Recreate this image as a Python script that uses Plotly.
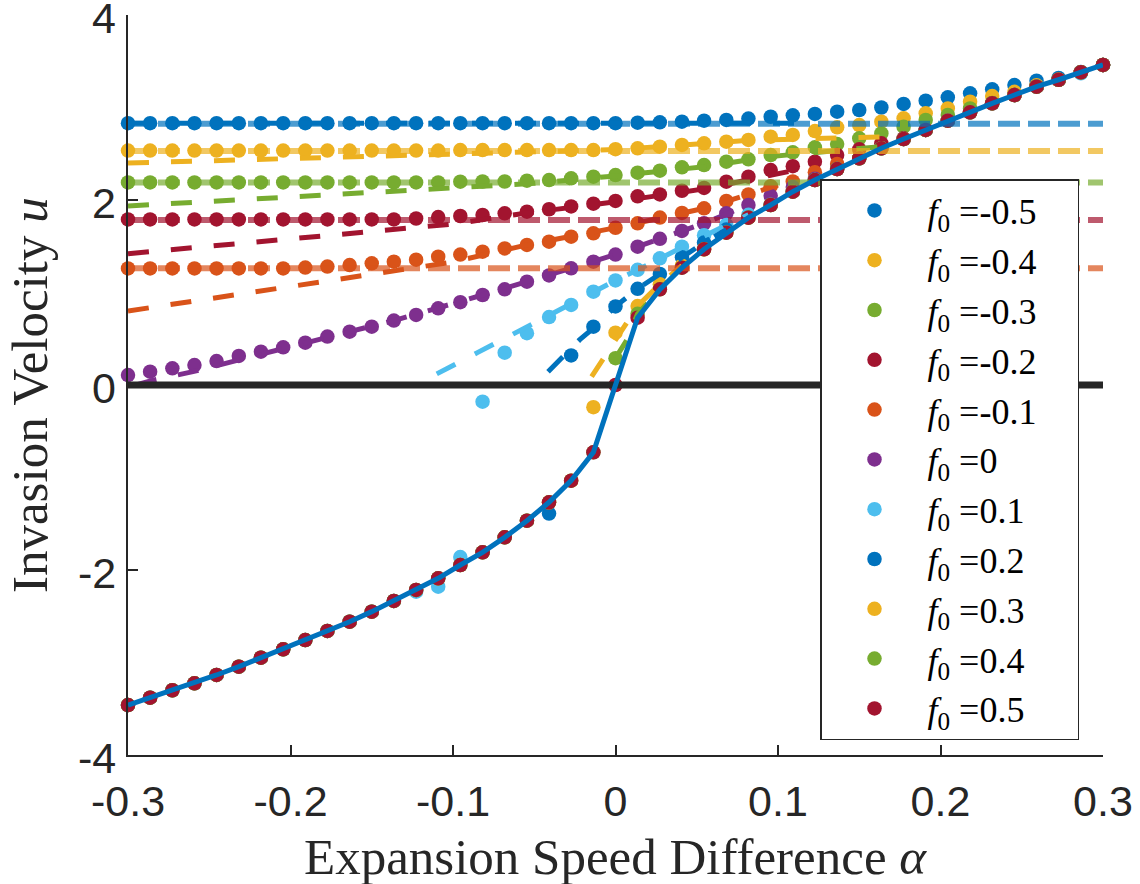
import plotly.graph_objects as go

# ---------------- data ----------------
ALPHA = [-0.3, -0.2864, -0.2727, -0.2591, -0.2455, -0.2318, -0.2182, -0.2045, -0.1909, -0.1773,
         -0.1636, -0.15, -0.1364, -0.1227, -0.1091, -0.0955, -0.0818, -0.0682, -0.0545, -0.0409,
         -0.0273, -0.0136, 0.0, 0.0136, 0.0273, 0.0409, 0.0545, 0.0682, 0.0818, 0.0955,
         0.1091, 0.1227, 0.1364, 0.15, 0.1636, 0.1773, 0.1909, 0.2045, 0.2182, 0.2318,
         0.2455, 0.2591, 0.2727, 0.2864, 0.3]

MAIN_U = [-3.46, -3.38, -3.30, -3.225, -3.135, -3.045, -2.948, -2.857, -2.757, -2.659,
          -2.559, -2.45, -2.335, -2.216, -2.09, -1.946, -1.809, -1.647, -1.467, -1.268,
          -1.034, -0.728, 0.0, 0.728, 1.034, 1.268, 1.467, 1.647, 1.809, 1.946,
          2.09, 2.216, 2.335, 2.45, 2.559, 2.659, 2.757, 2.857, 2.948, 3.045,
          3.135, 3.225, 3.30, 3.38, 3.46]

U_M05 = [2.83, 2.83, 2.83, 2.83, 2.83, 2.83, 2.83, 2.83, 2.83, 2.83,
         2.83, 2.83, 2.83, 2.83, 2.83, 2.83, 2.83, 2.83, 2.83, 2.83,
         2.83, 2.83, 2.83, 2.836, 2.84, 2.847, 2.858, 2.865, 2.88, 2.90,
         2.915, 2.93, 2.955, 2.973, 3.0, 3.038, 3.074, 3.11, 3.153, 3.196,
         3.243, 3.29, 3.32, 3.385, 3.46]
U_M04 = [2.535, 2.535, 2.535, 2.535, 2.535, 2.535, 2.535, 2.535, 2.535, 2.535,
         2.535, 2.535, 2.535, 2.535, 2.535, 2.54, 2.54, 2.54, 2.54, 2.54,
         2.54, 2.54, 2.55, 2.559, 2.577, 2.595, 2.613, 2.631, 2.649, 2.685,
         2.703, 2.745, 2.786, 2.81, 2.847, 2.883, 2.937, 2.99, 3.063, 3.124,
         3.17, 3.24, 3.30, 3.38, 3.46]
U_M03 = [2.19, 2.19, 2.19, 2.19, 2.19, 2.19, 2.19, 2.19, 2.19, 2.19,
         2.19, 2.19, 2.19, 2.19, 2.19, 2.198, 2.2, 2.2, 2.209, 2.216,
         2.234, 2.252, 2.27, 2.295, 2.317, 2.353, 2.378, 2.414, 2.44, 2.486,
         2.515, 2.57, 2.605, 2.667, 2.72, 2.793, 2.865, 2.919, 2.99, 3.05,
         3.135, 3.225, 3.30, 3.38, 3.46]
U_M02 = [1.79, 1.79, 1.79, 1.79, 1.79, 1.79, 1.79, 1.79, 1.79, 1.79,
         1.79, 1.79, 1.79, 1.80, 1.815, 1.827, 1.838, 1.856, 1.874, 1.90,
         1.93, 1.96, 1.99, 2.04, 2.06, 2.10, 2.13, 2.198, 2.252, 2.324,
         2.365, 2.414, 2.486, 2.548, 2.613, 2.667, 2.757, 2.857, 2.948, 3.045,
         3.135, 3.225, 3.30, 3.38, 3.46]
U_M01 = [1.26, 1.26, 1.26, 1.26, 1.26, 1.26, 1.26, 1.26, 1.27, 1.28,
         1.297, 1.315, 1.333, 1.355, 1.387, 1.41, 1.441, 1.477, 1.514, 1.55,
         1.604, 1.64, 1.70, 1.748, 1.81, 1.86, 1.91, 1.99, 2.06, 2.15,
         2.2, 2.3, 2.39, 2.45, 2.559, 2.659, 2.757, 2.857, 2.948, 3.045,
         3.135, 3.225, 3.30, 3.38, 3.46]
U_000 = [0.108, 0.144, 0.18, 0.216, 0.259, 0.314, 0.36, 0.407, 0.458, 0.523,
         0.577, 0.631, 0.696, 0.757, 0.829, 0.895, 0.973, 1.034, 1.117, 1.185,
         1.261, 1.333, 1.41, 1.495, 1.58, 1.665, 1.748, 1.856, 1.946, 2.045,
         2.14, 2.23, 2.335, 2.45, 2.559, 2.659, 2.757, 2.857, 2.948, 3.045,
         3.135, 3.225, 3.30, 3.38, 3.46]
U_P01 = [-3.46, -3.38, -3.30, -3.225, -3.135, -3.045, -2.948, -2.857, -2.757, -2.659,
         -2.559, -2.45, -2.335, -2.235, -2.18, -1.86, -0.18, 0.35, 0.56, 0.735,
         0.865, 1.009, 1.13, 1.245, 1.37, 1.495, 1.62, 1.73, 1.84, 1.95,
         2.09, 2.216, 2.335, 2.45, 2.559, 2.659, 2.757, 2.857, 2.948, 3.045,
         3.135, 3.225, 3.30, 3.37, 3.46]
U_P02 = [-3.46, -3.38, -3.30, -3.225, -3.135, -3.045, -2.948, -2.857, -2.757, -2.659,
         -2.559, -2.45, -2.335, -2.216, -2.09, -1.946, -1.809, -1.647, -1.467, -1.39,
         0.32, 0.63, 0.85, 1.04, 1.2, 1.38, 1.54, 1.68, 1.81, 1.946,
         2.09, 2.216, 2.335, 2.45, 2.559, 2.659, 2.757, 2.857, 2.948, 3.045,
         3.135, 3.225, 3.30, 3.38, 3.46]
U_P03 = [-3.46, -3.38, -3.30, -3.225, -3.135, -3.045, -2.948, -2.857, -2.757, -2.659,
         -2.559, -2.45, -2.335, -2.216, -2.09, -1.946, -1.809, -1.647, -1.467, -1.268,
         -1.034, -0.24, 0.565, 0.854, 1.09, 1.29, 1.467, 1.647, 1.809, 1.946,
         2.09, 2.216, 2.335, 2.45, 2.559, 2.659, 2.757, 2.857, 2.948, 3.045,
         3.135, 3.225, 3.30, 3.38, 3.46]
U_P04 = [-3.46, -3.38, -3.30, -3.225, -3.135, -3.045, -2.948, -2.857, -2.757, -2.659,
         -2.559, -2.45, -2.335, -2.216, -2.09, -1.946, -1.809, -1.647, -1.467, -1.268,
         -1.034, -0.728, 0.29, 0.77, 1.034, 1.268, 1.467, 1.647, 1.809, 1.946,
         2.09, 2.216, 2.335, 2.45, 2.559, 2.659, 2.757, 2.857, 2.948, 3.045,
         3.135, 3.225, 3.30, 3.38, 3.46]
U_P05 = [-3.46, -3.38, -3.30, -3.225, -3.135, -3.045, -2.948, -2.857, -2.757, -2.659,
         -2.559, -2.45, -2.335, -2.216, -2.09, -1.946, -1.809, -1.647, -1.467, -1.268,
         -1.034, -0.728, 0.0, 0.728, 1.034, 1.268, 1.467, 1.647, 1.809, 1.946,
         2.09, 2.216, 2.335, 2.45, 2.559, 2.659, 2.757, 2.857, 2.948, 3.045,
         3.135, 3.225, 3.30, 3.38, 3.46]

F0_LABELS = ["-0.5", "-0.4", "-0.3", "-0.2", "-0.1", "0", "0.1", "0.2", "0.3", "0.4", "0.5"]
F0_COLORS = ["#0072BD", "#EDB120", "#77AC30", "#A2142F", "#D95319", "#7E2F8E",
             "#4DBEEE", "#0072BD", "#EDB120", "#77AC30", "#A2142F"]
SIM_SERIES = [U_M05, U_M04, U_M03, U_M02, U_M01, U_000, U_P01, U_P02, U_P03, U_P04, U_P05]

# theory (dashed) curves: alpha / u pairs
TH_M05_A = [-0.3, 0.114]
TH_M05_U = [2.83, 2.83]
TH_M04_A = [-0.3, -0.1, 0.0, 0.0409, 0.0818, 0.17]
TH_M04_U = [2.40, 2.495, 2.545, 2.595, 2.645, 2.685]
TH_M03_A = [-0.3, -0.1, -0.05, 0.0, 0.0545, 0.0955, 0.165]
TH_M03_U = [1.935, 2.126, 2.18, 2.26, 2.36, 2.47, 2.58]
TH_M02_A = [-0.3, -0.1, -0.0545, 0.0, 0.0545, 0.11]
TH_M02_U = [1.42, 1.74, 1.86, 1.98, 2.12, 2.32]
TH_M01_A = [-0.3, -0.2, -0.1, -0.0545, 0.0, 0.0545, 0.0818, 0.10]
TH_M01_U = [0.80, 1.07, 1.33, 1.515, 1.70, 1.91, 2.06, 2.16]
TH_000_A = [-0.295, -0.285, -0.26, -0.237, -0.21, -0.1909, -0.1636, -0.1364, -0.1091, -0.0818,
            -0.0545, -0.0273, 0.0, 0.0273, 0.0545, 0.0818]
TH_000_U = [0.0, 0.05, 0.144, 0.25, 0.37, 0.458, 0.577, 0.696, 0.829, 0.973,
            1.117, 1.261, 1.41, 1.58, 1.748, 1.946]
TH_P01_A = [-0.11, -0.0975, -0.085, -0.074, -0.062, -0.051, -0.0409, -0.0273, -0.0136, 0.0,
            0.0136, 0.0273, 0.0409, 0.0545, 0.0682, 0.0818]
TH_P01_U = [0.12, 0.24, 0.35, 0.45, 0.56, 0.67, 0.76, 0.88, 1.01, 1.13,
            1.245, 1.37, 1.495, 1.62, 1.73, 1.84]
TH_P02_A = [-0.0415, -0.032, -0.022, -0.0145, 0.0, 0.0136, 0.0273, 0.0409, 0.0545, 0.0682]
TH_P02_U = [0.144, 0.32, 0.49, 0.60, 0.85, 1.04, 1.2, 1.38, 1.54, 1.68]
TH_P03_A = [-0.0147, -0.0075, 0.0, 0.005, 0.0136, 0.0273, 0.0409]
TH_P03_U = [0.09, 0.29, 0.50, 0.63, 0.854, 1.09, 1.29]
TH_P04_A = [0.0, 0.0071, 0.0136, 0.0273]
TH_P04_U = [0.29, 0.49, 0.77, 1.03]
THEORY = [(TH_M05_A, TH_M05_U, "#0072BD"), (TH_M04_A, TH_M04_U, "#EDB120"),
          (TH_M03_A, TH_M03_U, "#77AC30"), (TH_M02_A, TH_M02_U, "#A2142F"),
          (TH_M01_A, TH_M01_U, "#D95319"), (TH_000_A, TH_000_U, "#7E2F8E"),
          (TH_P01_A, TH_P01_U, "#4DBEEE"), (TH_P02_A, TH_P02_U, "#0072BD"),
          (TH_P03_A, TH_P03_U, "#EDB120"), (TH_P04_A, TH_P04_U, "#77AC30")]

# plateau levels (light dashed horizontal lines)
PLATEAU_U = [2.825, 2.53, 2.19, 1.785, 1.262]
PLATEAU_COLORS = ["rgba(0,114,189,0.7)", "rgba(237,177,32,0.7)", "rgba(119,172,48,0.7)",
                  "rgba(162,20,47,0.7)", "rgba(217,83,25,0.7)"]

X_RANGE = [-0.3, 0.3]
Y_RANGE = [-4, 4]
X_TICKS = [-0.3, -0.2, -0.1, 0, 0.1, 0.2, 0.3]
X_TICKTEXT = ["-0.3", "-0.2", "-0.1", "0", "0.1", "0.2", "0.3"]
Y_TICKS = [-4, -2, 0, 2, 4]
Y_TICKTEXT = ["-4", "-2", "0", "2", "4"]

AXIS_COLOR = "#262626"

# ---------------- figure ----------------
fig = go.Figure()

for lab, col, u in zip(F0_LABELS, F0_COLORS, SIM_SERIES):
    fig.add_trace(go.Scatter(
        x=ALPHA, y=u, mode="markers", cliponaxis=False,
        marker=dict(size=14.5, color=col, line=dict(width=0)),
        name="<i>f</i><sub>0</sub> =" + lab + "&nbsp;&nbsp;&nbsp;&nbsp;", showlegend=True))

for a, u, col in THEORY:
    fig.add_trace(go.Scatter(x=a, y=u, mode="lines", showlegend=False,
                             line=dict(color=col, width=5, dash="21px,22px")))

for lvl, col in zip(PLATEAU_U, PLATEAU_COLORS):
    fig.add_trace(go.Scatter(x=X_RANGE, y=[lvl, lvl], mode="lines", showlegend=False,
                             line=dict(color=col, width=6, dash="22px,8px")))

fig.add_trace(go.Scatter(x=X_RANGE, y=[0, 0], mode="lines", showlegend=False,
                         line=dict(color=AXIS_COLOR, width=7)))

fig.add_trace(go.Scatter(x=ALPHA, y=MAIN_U, mode="lines", showlegend=False,
                         line=dict(color="#0072BD", width=5)))

W, H = 1140, 884
ML, MR, MT, MB = 128, 37, 15, 129
PW, PH = W - ML - MR, H - MT - MB

TICK_FONT = dict(family="Liberation Sans", size=43, color=AXIS_COLOR)

# y tick labels as text placed at the tick values (slightly lowered, like the reference)
y_tick_annotations = [
    dict(text=t, xref="paper", yref="y", x=0, y=v, xanchor="right", yanchor="middle",
         xshift=-10, yshift=-3, showarrow=False, font=TICK_FONT)
    for v, t in zip(Y_TICKS, Y_TICKTEXT)
]

fig.update_layout(
    width=W, height=H,
    margin=dict(l=ML, r=MR, t=MT, b=MB, pad=0),
    paper_bgcolor="white", plot_bgcolor="white",
    showlegend=True,
    legend=dict(x=(820 - ML) / PW, y=(H - MB - 179) / PH, xanchor="left", yanchor="top",
                bgcolor="white", bordercolor=AXIS_COLOR, borderwidth=1.5,
                font=dict(family="Liberation Serif", size=36, color="black"),
                itemwidth=96, tracegroupgap=0),
    xaxis=dict(range=X_RANGE, tickvals=X_TICKS, ticktext=X_TICKTEXT,
               showline=True, linecolor=AXIS_COLOR, linewidth=1.5,
               ticks="inside", ticklen=10, tickwidth=1.5, tickcolor=AXIS_COLOR,
               showgrid=False, zeroline=False, automargin=False,
               ticklabelstandoff=8, ticklabeloverflow="allow",
               tickfont=TICK_FONT),
    yaxis=dict(range=Y_RANGE, tickvals=Y_TICKS, showticklabels=False,
               showline=True, linecolor=AXIS_COLOR, linewidth=1.5,
               ticks="inside", ticklen=10, tickwidth=1.5, tickcolor=AXIS_COLOR,
               showgrid=False, zeroline=False, automargin=False),
    annotations=y_tick_annotations + [
        dict(text="Expansion Speed Difference <i>α</i>", xref="paper", yref="paper",
             x=0.5, y=(H - MB - 857) / PH, showarrow=False,
             xanchor="center", yanchor="middle",
             font=dict(family="Liberation Serif", size=51, color=AXIS_COLOR)),
        dict(text="Invasion Velocity <i>u</i>", xref="paper", yref="paper",
             x=(30 - ML) / PW, y=(H - MB - 395) / PH, textangle=-90,
             showarrow=False, xanchor="center", yanchor="middle",
             font=dict(family="Liberation Serif", size=51, color=AXIS_COLOR)),
    ],
)

fig.write_html("out.html", config={"displayModeBar": False},
               post_script="document.body.style.margin='0';document.body.style.padding='0';")
